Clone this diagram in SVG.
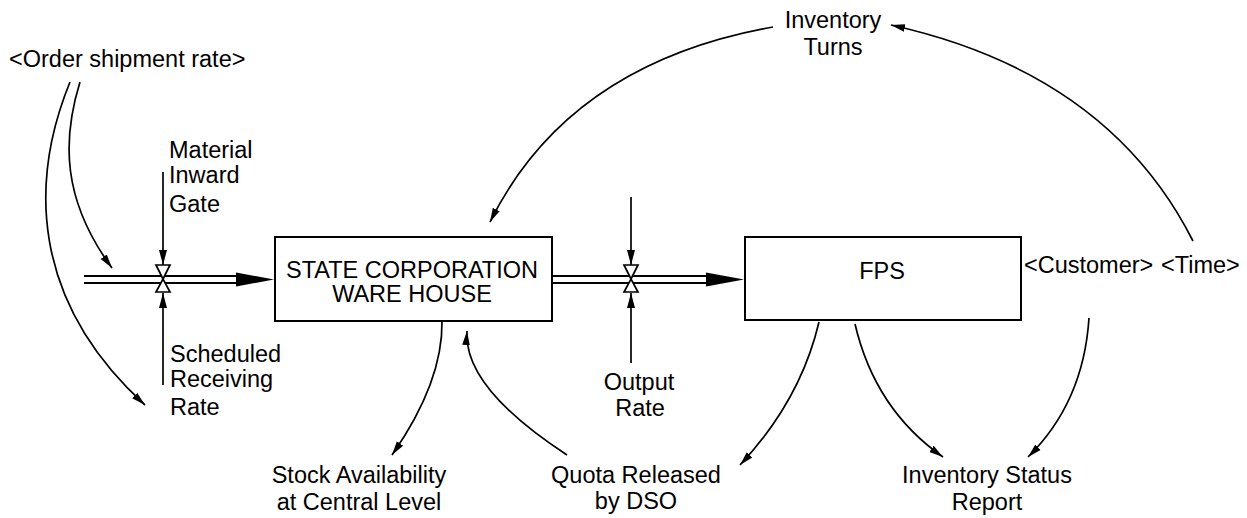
<svg xmlns="http://www.w3.org/2000/svg" width="1247" height="518" viewBox="0 0 1247 518">
  <style>
    text { font-family: "Liberation Sans", Arial, sans-serif; font-size: 23.5px; fill: #000; }
    .mid { text-anchor: middle; }
    .stock { fill: #fff; stroke: #000; stroke-width: 2; }
    .pipe { stroke: #000; stroke-width: 2; fill: none; }
    .link { stroke: #000; stroke-width: 1.7; fill: none; marker-end: url(#ah); }
    .vlink { stroke: #000; stroke-width: 1.7; fill: none; marker-end: url(#ahv); }
    .valve { fill: #fff; stroke: #000; stroke-width: 1.7; }
  </style>
  <defs>
    <marker id="ah" markerUnits="userSpaceOnUse" markerWidth="16" markerHeight="10" refX="14" refY="5" orient="auto" viewBox="0 0 16 10">
      <path d="M0,1.2 L14,5 L0,8.8 Z" fill="#000"/>
    </marker>
    <marker id="ahv" markerUnits="userSpaceOnUse" markerWidth="16" markerHeight="10" refX="15" refY="5" orient="auto" viewBox="0 0 16 10">
      <path d="M0,1 L15,5 L0,9 Z" fill="#000"/>
    </marker>
    <g id="valveShape">
      <path class="valve" d="M-7,-14 L7,-14 L0,0 Z"/>
      <path class="valve" d="M-7,13 L7,13 L0,0 Z"/>
    </g>
  </defs>
  <rect width="1247" height="518" fill="#fff"/>

  <g id="connectors">
    <!-- inflow pipe -->
    <line class="pipe" x1="84" y1="276" x2="237" y2="276"/>
    <line class="pipe" x1="84" y1="283" x2="237" y2="283"/>
    <polygon points="236,272.5 274,279.5 236,286.5" fill="#000"/>
    <!-- outflow pipe -->
    <line class="pipe" x1="552" y1="276" x2="707" y2="276"/>
    <line class="pipe" x1="552" y1="283" x2="707" y2="283"/>
    <polygon points="706,272.5 744,279.5 706,286.5" fill="#000"/>
    <!-- valve links -->
    <line class="vlink" x1="163" y1="172" x2="163" y2="265"/>
    <line class="vlink" x1="163" y1="385" x2="163" y2="293"/>
    <line class="vlink" x1="631" y1="197" x2="631" y2="265"/>
    <line class="vlink" x1="631" y1="363" x2="631" y2="293"/>
    <!-- curved links -->
    <path class="link" d="M80,82 C62,140 62,200 112,268"/>
    <path class="link" d="M70,82 C30,180 30,300 145,405"/>
    <path class="link" d="M773,27 Q568.5,63.5 490,222"/>
    <path class="link" d="M1193,241 Q1108,73 891,25"/>
    <path class="link" d="M442,321 Q443,382 392,455"/>
    <path class="link" d="M567,455 Q463,387 467,331"/>
    <path class="link" d="M819,322 Q800.5,400.5 740,465"/>
    <path class="link" d="M855,324 Q875,409.5 943,457"/>
    <path class="link" d="M1089,318 Q1083.5,402.5 1028,457"/>
  </g>

  <g id="valve-inflow">
    <use href="#valveShape" x="163" y="279"/>
  </g>
  <g id="valve-outflow">
    <use href="#valveShape" x="631" y="279"/>
  </g>

  <g id="state-corporation-ware-house">
    <rect class="stock" x="275" y="237" width="277" height="84"/>
    <text class="mid" x="412" y="278">STATE CORPORATION</text>
    <text class="mid" x="412" y="302">WARE HOUSE</text>
  </g>

  <g id="fps">
    <rect class="stock" x="745" y="237" width="276" height="83"/>
    <text class="mid" x="882" y="279">FPS</text>
  </g>

  <g id="order-shipment-rate">
    <text x="9" y="67">&lt;Order shipment rate&gt;</text>
  </g>

  <g id="material-inward-gate">
    <text x="169" y="158">Material</text>
    <text x="169" y="183">Inward</text>
    <text x="169" y="212">Gate</text>
  </g>

  <g id="scheduled-receiving-rate">
    <text x="170" y="362">Scheduled</text>
    <text x="170" y="387">Receiving</text>
    <text x="170" y="415">Rate</text>
  </g>

  <g id="output-rate">
    <text class="mid" x="639" y="390">Output</text>
    <text class="mid" x="640" y="416">Rate</text>
  </g>

  <g id="inventory-turns">
    <text class="mid" x="833" y="28">Inventory</text>
    <text class="mid" x="833" y="55">Turns</text>
  </g>

  <g id="customer">
    <text x="1024" y="273">&lt;Customer&gt;</text>
  </g>

  <g id="time">
    <text x="1161" y="273">&lt;Time&gt;</text>
  </g>

  <g id="stock-availability">
    <text class="mid" x="359" y="483">Stock Availability</text>
    <text class="mid" x="359" y="510">at Central Level</text>
  </g>

  <g id="quota-released">
    <text class="mid" x="636" y="483">Quota Released</text>
    <text class="mid" x="636" y="509">by DSO</text>
  </g>

  <g id="inventory-status-report">
    <text class="mid" x="987" y="483">Inventory Status</text>
    <text class="mid" x="987" y="510">Report</text>
  </g>
</svg>
